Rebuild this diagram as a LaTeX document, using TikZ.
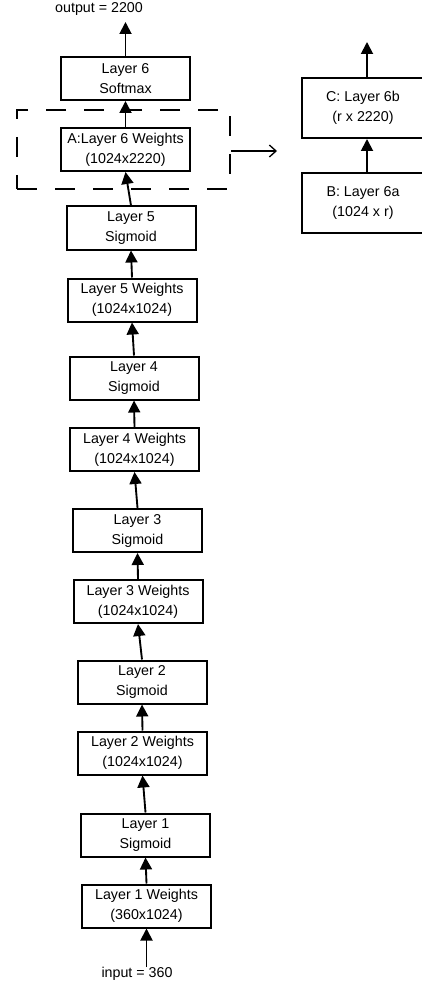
\documentclass[tikz,border=0pt]{standalone}
\usepackage{fontspec}
\setmainfont{Liberation Sans}
\usetikzlibrary{arrows.meta}

\tikzset{
  layer/.style={draw, line width=1.5pt, minimum width=96.75pt, minimum height=32.25pt,
    inner sep=0pt, align=center, font=\fontsize{10.7}{15}\selectfont},
  split/.style={layer, minimum width=91.5pt, minimum height=45pt},
  label/.style={inner sep=0pt, font=\fontsize{10.7}{15}\selectfont},
  flow/.style={-{Triangle[length=9pt,width=9pt]}, line width=1.4pt},
}

\begin{document}
\begin{tikzpicture}[x=0.75pt, y=-0.75pt]
  \useasboundingbox (0,0) rectangle (421,984);
  \node[label] (out) at (99, 9) {output = 2200};
  \node[layer] (l6) at (125.5, 78.5) {Layer 6\\Softmax};
  \node[layer] (w6) at (125.5, 149.5) {A:Layer 6 Weights\\(1024x2220)};
  \node[layer] (l5) at (131, 228) {Layer 5\\Sigmoid};
  \node[layer] (w5) at (132, 300) {Layer 5 Weights\\(1024x1024)};
  \node[layer] (l4) at (134, 378) {Layer 4\\Sigmoid};
  \node[layer] (w4) at (134.5, 449.5) {Layer 4 Weights\\(1024x1024)};
  \node[layer] (l3) at (137.5, 530.5) {Layer 3\\Sigmoid};
  \node[layer] (w3) at (138, 601.5) {Layer 3 Weights\\(1024x1024)};
  \node[layer] (l2) at (142, 682) {Layer 2\\Sigmoid};
  \node[layer] (w2) at (142.5, 753) {Layer 2 Weights\\(1024x1024)};
  \node[layer] (l1) at (145.5, 835) {Layer 1\\Sigmoid};
  \node[layer] (w1) at (146.5, 906) {Layer 1 Weights\\(360x1024)};
  \node[label] (inp) at (137, 974) {input = 360};
  \node[draw, line width=1.4pt, dash pattern=on 15pt off 13.5pt,
    minimum width=159.75pt, minimum height=59.25pt] (grp) at (123.5, 149.5) {};
  \node[split] (w6b) at (363, 108) {C: Layer 6b\\(r x 2220)};
  \node[split] (w6a) at (363, 203) {B: Layer 6a\\(1024 x r)};
  \coordinate (top) at (125.5, 22);
  \coordinate (ctop) at (367, 42);
  \coordinate (zoomin) at (277, 151);
  \draw[flow] (inp.north -| w1.south) -- (w1.south);
  \draw[flow] (w1.north) -- (l1.south);
  \draw[flow] (l1.north) -- (w2.south);
  \draw[flow] (w2.north) -- (l2.south);
  \draw[flow] (l2.north) -- (w3.south);
  \draw[flow] (w3.north) -- (l3.south);
  \draw[flow] (l3.north) -- (w4.south);
  \draw[flow] (w4.north) -- (l4.south);
  \draw[flow] (l4.north) -- (w5.south);
  \draw[flow] (w5.north) -- (l5.south);
  \draw[flow] (l5.north) -- (w6.south);
  \draw[flow] (w6.north) -- (l6.south);
  \draw[flow] (l6.north) -- (top);
  \draw[flow] (w6a.north -| ctop) -- (w6b.south -| ctop);
  \draw[flow] (w6b.north -| ctop) -- (ctop);
  \draw[-{Straight Barb[length=5pt,width=9pt]}, line width=1pt] (grp.east |- zoomin) -- (zoomin);
\end{tikzpicture}
\end{document}
